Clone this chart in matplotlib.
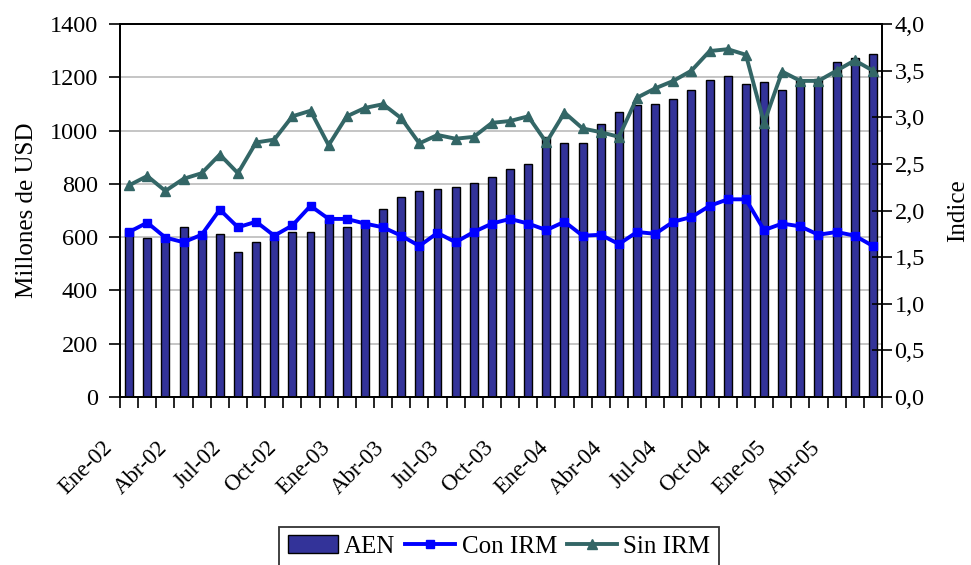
import numpy as np
import matplotlib
matplotlib.use("Agg")
import matplotlib.pyplot as plt
from matplotlib.ticker import FuncFormatter, FixedLocator
from matplotlib.transforms import ScaledTranslation

plt.rcParams["font.family"] = ["Liberation Serif", "DejaVu Serif"]

# ── Data (monthly, Ene-02 .. Jun-05) ─────────────────────────────────────────
meses = ["Ene", "Feb", "Mar", "Abr", "May", "Jun",
         "Jul", "Ago", "Sep", "Oct", "Nov", "Dic"]
etiquetas = [f"{meses[i % 12]}-{2 + i // 12:02d}" for i in range(42)]

aen = [629, 595, 601, 639, 612, 610, 543, 580, 598, 618, 618, 665,
       639, 658, 707, 752, 774, 782, 790, 805, 827, 857, 874, 975,
       955, 955, 1023, 1068, 1095, 1098, 1120, 1152, 1189, 1204, 1174, 1182,
       1152, 1188, 1195, 1258, 1272, 1288]

con_irm = [1.77, 1.87, 1.71, 1.66, 1.74, 2.01, 1.82, 1.88, 1.73, 1.84, 2.05, 1.91,
           1.91, 1.86, 1.82, 1.73, 1.62, 1.76, 1.66, 1.77, 1.86, 1.91, 1.86, 1.79,
           1.88, 1.73, 1.74, 1.64, 1.77, 1.75, 1.88, 1.93, 2.05, 2.12, 2.12, 1.79,
           1.86, 1.83, 1.74, 1.77, 1.73, 1.62]

sin_irm = [2.27, 2.37, 2.21, 2.34, 2.40, 2.60, 2.40, 2.73, 2.76, 3.01, 3.07, 2.70,
           3.01, 3.10, 3.14, 2.99, 2.72, 2.81, 2.77, 2.79, 2.94, 2.96, 3.01, 2.73,
           3.05, 2.88, 2.84, 2.79, 3.21, 3.31, 3.39, 3.50, 3.71, 3.73, 3.67, 2.94,
           3.49, 3.39, 3.39, 3.50, 3.61, 3.50]

x = np.arange(len(aen))

# ── Figure ───────────────────────────────────────────────────────────────────
fig = plt.figure(figsize=(9.71, 5.65), dpi=100)
ax = fig.add_axes([0.1236, 0.2973, 0.7847, 0.6602])
ax2 = ax.twinx()

ax.set_axisbelow(True)
ax.yaxis.grid(True, color="#c0c0c0", lw=1.3)
b = ax.bar(x, aen, width=0.44, color="#333399", edgecolor="black", lw=1.0,
           label="AEN", zorder=2)

l1, = ax2.plot(x, con_irm, color="#0000ff", lw=2.8, marker="s", ms=6,
               mfc="#0000ff", mec="#0000ff", label="Con IRM")
l2, = ax2.plot(x, sin_irm, color="#336666", lw=2.8, marker="^", ms=7,
               mfc="#336666", mec="#336666", label="Sin IRM")

ax.set_xlim(-0.5, len(aen) - 0.5)
ax.set_ylim(0, 1400)
ax.set_yticks(np.arange(0, 1401, 200))
ax2.set_ylim(0, 4)
ax2.set_yticks(np.arange(0, 4.01, 0.5))
ax2.yaxis.set_major_formatter(FuncFormatter(lambda v, p: f"{v:.1f}".replace(".", ",")))

# tick marks between categories; labels every 3 months drawn as offset text
ax.xaxis.set_major_locator(FixedLocator(np.arange(-0.5, len(aen), 1)))
ax.set_xticklabels([])
ax.tick_params(axis="x", length=8, width=1.2, direction="out")
shift = ScaledTranslation(-0.27, -0.40, fig.dpi_scale_trans)
for xi in x[::3]:
    ax.text(xi, 0, etiquetas[xi], transform=ax.get_xaxis_transform() + shift,
            rotation=45, ha="right", va="top", rotation_mode="anchor",
            fontsize=16.5)

ax.tick_params(axis="y", length=8, width=1.2, direction="out", labelsize=17.5, pad=8)
ax2.tick_params(axis="y", length=14, width=1.2, direction="inout", labelsize=17.5, pad=2)

for a in (ax, ax2):
    for s in a.spines.values():
        s.set_linewidth(1.3)

ax.set_ylabel("Millones de USD", fontsize=18, labelpad=8)
ax2.set_ylabel("Indice", fontsize=18, labelpad=16)

leg = fig.legend([b, l1, l2], ["AEN", "Con IRM", "Sin IRM"], ncol=3,
                 loc="upper center", bbox_to_anchor=(0.514, 0.068),
                 borderaxespad=0, fontsize=18, frameon=True, fancybox=False,
                 edgecolor="black", handlelength=2.0, handletextpad=0.25,
                 columnspacing=0.4, borderpad=0.35)
leg.get_frame().set_linewidth(1.3)

fig.savefig("out.png", dpi=100)
